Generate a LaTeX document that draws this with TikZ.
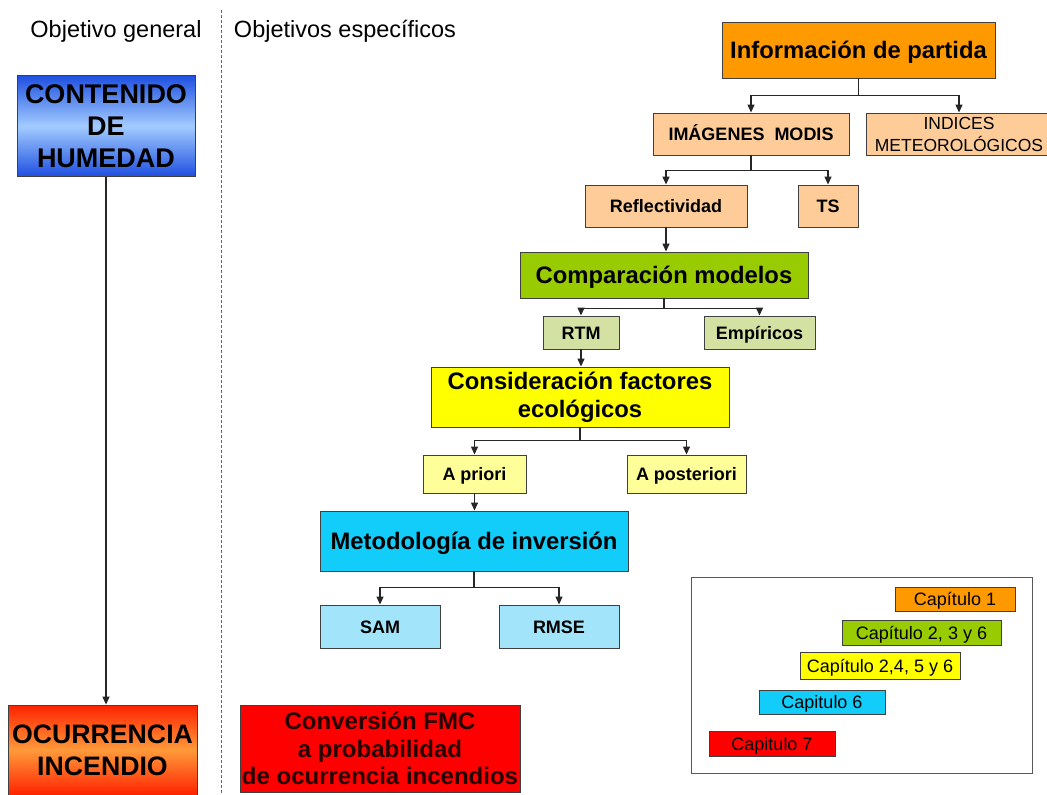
\documentclass[tikz,border=0pt]{standalone}
\usepackage{fontspec}
\setmainfont{Liberation Sans}
\usetikzlibrary{arrows.meta}
\definecolor{cOrange}{HTML}{FF9900}
\definecolor{cPeach}{HTML}{FDCC99}
\definecolor{cGreen}{HTML}{99CC00}
\definecolor{cLGreen}{HTML}{D3E2A2}
\definecolor{cYellow}{HTML}{FFFF00}
\definecolor{cLYellow}{HTML}{FFFF99}
\definecolor{cCyan}{HTML}{12CCFA}
\definecolor{cLCyan}{HTML}{A2E4FA}
\definecolor{cRed}{HTML}{FF0000}
\definecolor{cBlueDark}{HTML}{1E4FE0}
\definecolor{cBlueLight}{HTML}{A2CCFF}
\definecolor{cOcuRed}{HTML}{FF2200}
\definecolor{cOcuOrange}{HTML}{FF9A3A}
\begin{document}
\begin{tikzpicture}[x=1pt,y=-1pt,
  bx/.style={draw=black!75, line width=0.9pt, inner sep=0pt, align=center, text=black},
  sz/.style n args={2}{minimum width=#1pt, minimum height=#2pt},
  big/.style={font=\bfseries\fontsize{23.8}{28}\selectfont},
  bigone/.style={big, text height=17pt, text depth=0pt},
  small/.style={font=\bfseries\fontsize{18}{21}\selectfont, text height=13pt, text depth=0pt},
  leg/.style={font=\fontsize{18}{21}\selectfont, text height=13pt, text depth=0pt},
  arr/.style={line width=1.3pt, draw=black!85, -{Triangle[length=8pt,width=7pt]}},
  ttl/.style={font=\fontsize{23.5}{28}\selectfont, anchor=base},
]
\useasboundingbox (0,0) rectangle (1047,795);

% titles and separator
\node[ttl] (tgen) at (116,37) {Objetivo general};
\node[ttl] (tesp) at (345,37) {Objetivos específicos};
\draw[black!60, line width=0.9pt, dash pattern=on 3pt off 2pt] (221,10) -- (221,800);

% general objective
\node[bx, sz={178}{101}, top color=cBlueDark, bottom color=cBlueDark, middle color=cBlueLight,
      font=\bfseries\fontsize{27}{32}\selectfont] (gen) at (106,126) {CONTENIDO\\DE\\HUMEDAD};
\node[bx, sz={189}{90}, top color=cOcuRed, bottom color=cOcuRed, middle color=cOcuOrange,
      font=\bfseries\fontsize{26.7}{32}\selectfont] (ocu) at (102.5,750) {OCURRENCIA\\INCENDIO};
\draw[arr] (gen.south) -- (gen.south |- ocu.north);

% specific objectives
\node[bx, sz={273}{56}, fill=cOrange, bigone] (info) at (858.5,50) {Información de partida};
\node[bx, sz={196}{42}, fill=cPeach, small] (imag) at (751,134) {IMÁGENES\ \ MODIS};
\node[bx, sz={186}{42}, fill=cPeach, font=\fontsize{17.5}{22}\selectfont] (indi) at (959,134) {INDICES\\METEOROLÓGICOS};
\node[bx, sz={162}{42}, fill=cPeach, small] (refl) at (666,206) {Reflectividad};
\node[bx, sz={60}{42}, fill=cPeach, small] (ts) at (828,206) {TS};
\node[bx, sz={288}{46}, fill=cGreen, bigone] (comp) at (664,275) {Comparación modelos};
\node[bx, sz={76}{33}, fill=cLGreen, small] (rtm) at (581,332.5) {RTM};
\node[bx, sz={111}{33}, fill=cLGreen, small] (emp) at (759.5,332.5) {Empíricos};
\node[bx, sz={298}{60}, fill=cYellow, big] (cons) at (580,397) {Consideración factores\\ecológicos};
\node[bx, sz={103}{38}, fill=cLYellow, small] (apri) at (474.5,474) {A priori};
\node[bx, sz={119}{38}, fill=cLYellow, small] (apos) at (686.5,474) {A posteriori};
\node[bx, sz={308}{60}, fill=cCyan, bigone] (meto) at (474,541) {Metodología de inversión};
\node[bx, sz={120}{43}, fill=cLCyan, small] (sam) at (380,626.5) {SAM};
\node[bx, sz={120}{43}, fill=cLCyan, small] (rmse) at (559,626.5) {RMSE};
\node[bx, sz={280}{87}, fill=cRed, font=\bfseries\fontsize{24}{27.5}\selectfont, text=black!85!red] (conv) at (380,748.5)
  {Conversión FMC\\a probabilidad\\de ocurrencia incendios};

% connectors
\draw[arr] (info.south) -- ++(0,17) -| (imag.north);
\draw[arr] (info.south) -- ++(0,17) -| (indi.north);
\draw[arr] (imag.south) -- ++(0,15) -| (refl.north);
\draw[arr] (imag.south) -- ++(0,15) -| (ts.north);
\draw[arr] (refl.south) -- (refl.south |- comp.north);
\draw[arr] (comp.south) -- ++(0,10) -| (rtm.north);
\draw[arr] (comp.south) -- ++(0,10) -| (emp.north);
\draw[arr] (rtm.south) -- (rtm.south |- cons.north);
\draw[arr] (cons.south) -- ++(0,13) -| (apri.north);
\draw[arr] (cons.south) -- ++(0,13) -| (apos.north);
\draw[arr] (apri.south) -- (apri.south |- meto.north);
\draw[arr] (meto.south) -- ++(0,16) -| (sam.north);
\draw[arr] (meto.south) -- ++(0,16) -| (rmse.north);

% legend
\node[draw=black!65, line width=0.9pt, fill=white, sz={341}{196}, inner sep=0pt] (legend) at (861.5,675) {};
\node[bx, sz={120}{24}, fill=cOrange, leg] (c1) at (955,599) {Capítulo 1};
\node[bx, sz={159}{25}, fill=cGreen, leg] (c2) at (921.5,632.5) {Capítulo 2, 3 y 6};
\node[bx, sz={160}{27}, fill=cYellow, leg] (c3) at (880,665.5) {Capítulo 2,4, 5 y 6};
\node[bx, sz={126}{24}, fill=cCyan, leg] (c4) at (822,702) {Capitulo 6};
\node[bx, sz={126}{25}, fill=cRed, leg] (c5) at (772,743.5) {Capitulo 7};
\end{tikzpicture}
\end{document}
